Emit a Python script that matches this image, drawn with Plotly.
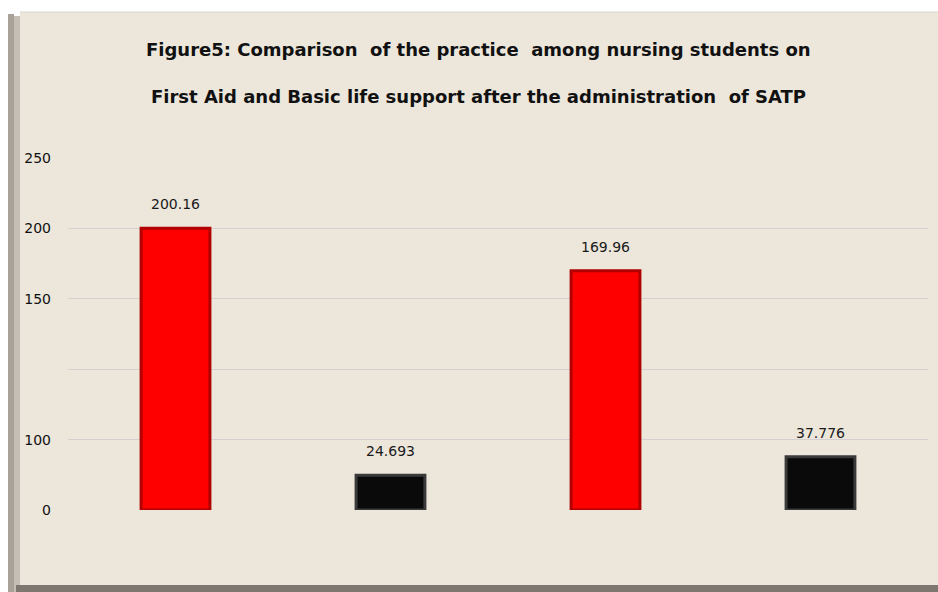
import plotly.graph_objects as go

# ---- data ----
categories = ["First Aid Mean", "First Aid SD", "BLS Mean", "BLS SD"]
values = [200.16, 24.693, 169.96, 37.776]
value_labels = ["200.16", "24.693", "169.96", "37.776"]
bar_colors = ["#ff0000", "#0a0a0a", "#ff0000", "#0a0a0a"]
bar_edge_colors = ["#b00000", "#3a3a3a", "#b00000", "#3a3a3a"]
tick_vals = [0, 50, 100, 150, 200, 250]
tick_text = ["0", "100", "", "150", "200", "250"]
title_lines = [
    "Figure5: Comparison  of the practice  among nursing students on",
    "First Aid and Basic life support after the administration  of SATP",
]

W, H = 938, 592
ML, MR, MT, MB = 68, 10, 158, 82
PW, PH = W - ML - MR, H - MT - MB


def px(x):
    return (x - ML) / PW


def py(y):
    return (H - MB - y) / PH


fig = go.Figure()
fig.add_trace(go.Bar(
    x=categories, y=values,
    marker=dict(color=bar_colors, line=dict(color=bar_edge_colors, width=3)),
    width=0.32, hoverinfo="skip",
))

shapes = [
    # beige panel
    dict(type="rect", xref="paper", yref="paper", x0=px(20), x1=px(938), y0=py(586), y1=py(12),
         fillcolor="#ece6db", line=dict(width=0), layer="below"),
    # left bevel
    dict(type="rect", xref="paper", yref="paper", x0=px(8), x1=px(14), y0=py(592), y1=py(14),
         fillcolor="#a8a298", line=dict(width=0), layer="below"),
    dict(type="rect", xref="paper", yref="paper", x0=px(14), x1=px(20), y0=py(592), y1=py(16),
         fillcolor="#c4beb4", line=dict(width=0), layer="below"),
    # bottom strip
    dict(type="rect", xref="paper", yref="paper", x0=px(16), x1=px(938), y0=py(592), y1=py(585),
         fillcolor="#7d776f", line=dict(width=0), layer="below"),
    # top light edge
    dict(type="line", xref="paper", yref="paper", x0=px(20), x1=px(938), y0=py(12), y1=py(12),
         line=dict(color="#dcd7cf", width=1), layer="below"),
]

annotations = []
for c, v, t in zip(categories, values, value_labels):
    annotations.append(dict(x=c, y=v, text=t, showarrow=False, yshift=24, yanchor="middle",
                            font=dict(family="DejaVu Sans", size=14, color="#1a1a1a")))
for i, line in enumerate(title_lines):
    annotations.append(dict(xref="paper", yref="paper", x=px(478), y=py(50 + 47 * i), text="<b>" + line + "</b>",
                            showarrow=False, xanchor="center", yanchor="middle",
                            font=dict(family="DejaVu Sans", size=18, color="#111111")))

fig.update_layout(
    width=W, height=H,
    margin=dict(l=ML, r=MR, t=MT, b=MB),
    paper_bgcolor="#ffffff",
    plot_bgcolor="rgba(0,0,0,0)",
    showlegend=False,
    bargap=0.68,
    shapes=shapes,
    annotations=annotations,
    xaxis=dict(showticklabels=False, showgrid=False, zeroline=False, showline=False, ticks=""),
    yaxis=dict(range=[0, 250], tickvals=tick_vals, ticktext=tick_text, showgrid=True,
               gridcolor="#d6d0d2", gridwidth=1, zeroline=False, showline=False, ticks="",
               ticklabelstandoff=16,
               tickfont=dict(family="DejaVu Sans", size=14, color="#111111")),
)

fig.write_html("out.html")
